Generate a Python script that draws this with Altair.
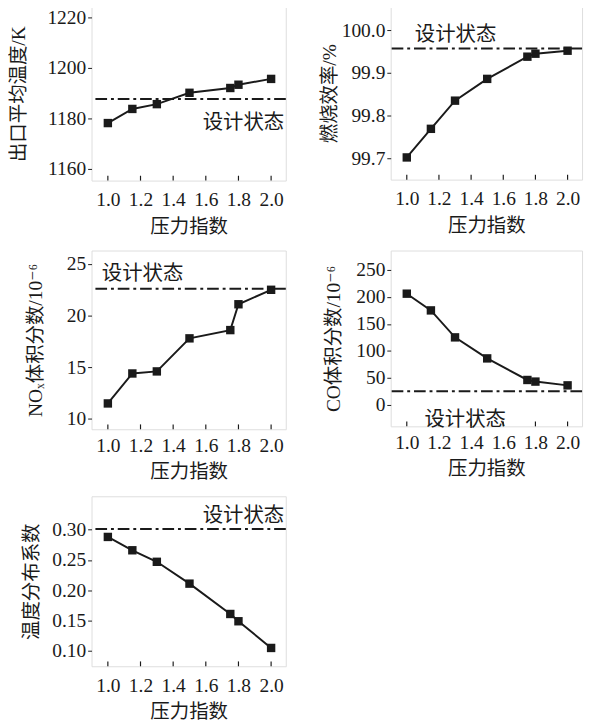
import altair as alt
import pandas as pd

# ---------------- data ----------------
pressure_index = [1.0, 1.15, 1.3, 1.5, 1.75, 1.8, 2.0]
outlet_temp = [1178.1, 1183.7, 1185.6, 1190.1, 1192.0, 1193.3, 1195.6]   # K
comb_eff = [99.702, 99.769, 99.835, 99.886, 99.938, 99.945, 99.952]       # %
nox = [11.5, 14.4, 14.6, 17.8, 18.6, 21.1, 22.5]                          # 1e-6
co = [206, 175, 125, 86, 46, 43, 36]                                      # 1e-6
temp_dist = [0.288, 0.266, 0.247, 0.211, 0.161, 0.149, 0.105]

design_temp = 1187.6
design_eff = 99.957
design_nox = 22.6
design_co = 25
design_dist = 0.301

x_ticks = [1.0, 1.2, 1.4, 1.6, 1.8, 2.0]
design_label = "设计状态"
x_title = "压力指数"

SERIF = "'Liberation Serif', 'DejaVu Serif', 'Noto Sans CJK SC', serif"
CJK = "'Noto Sans CJK SC', sans-serif"
INK = "#1a1a1a"


def panel(vals, ytitle, ydom, yticks, yfmt, dval, lx, ly, lalign, w, h, tpad,
          xlp, xtp):
    df = pd.DataFrame({"p": pressure_index, "v": vals})
    xs = alt.Scale(domain=[0.9, 2.09], nice=False, zero=False)
    ys = alt.Scale(domain=ydom, nice=False, zero=False)
    xaxis = alt.Axis(values=x_ticks, format=".1f", title=x_title, tickSize=0,
                     labelPadding=xlp, titlePadding=xtp, domain=False, grid=False,
                     labelFont=SERIF, labelFontSize=20, titleFont=CJK,
                     titleFontSize=20, titleFontWeight="normal",
                     labelColor=INK, titleColor=INK, labelFlush=False,
                     labelOverlap=False)
    yaxis = alt.Axis(values=yticks, format=yfmt, title=ytitle, tickSize=4,
                     tickColor=INK, labelPadding=2, titlePadding=tpad,
                     domain=False, grid=False, labelFont=SERIF,
                     labelFontSize=20, titleFont=SERIF, titleFontSize=20,
                     titleFontWeight="normal", labelColor=INK,
                     titleColor=INK, labelOverlap=False)
    X = alt.X("p:Q", scale=xs, axis=xaxis)
    Y = alt.Y("v:Q", scale=ys, axis=yaxis)

    line = alt.Chart(df).mark_line(color=INK, strokeWidth=2).encode(x=X, y=Y)
    pts = alt.Chart(df).mark_square(size=75, color=INK, opacity=1).encode(x=X, y=Y)
    ref = alt.Chart(pd.DataFrame({"v": [dval]})).mark_rule(
        color=INK, strokeWidth=2, strokeDash=[12, 4, 3, 4]).encode(y=Y)
    ticks = alt.Chart(pd.DataFrame({"p": x_ticks})).mark_rule(
        color=INK, strokeWidth=1.2).encode(x=X, y=alt.value(h), y2=alt.value(h - 5))
    lab = alt.Chart(pd.DataFrame({"t": [design_label]})).mark_text(
        font=CJK, fontSize=21, align=lalign, baseline="middle", color=INK
    ).encode(text="t:N",
             x=alt.X(datum=lx, scale=xs, axis=xaxis),
             y=alt.Y(datum=ly, scale=ys, axis=yaxis))
    return alt.layer(line, pts, ref, ticks, lab).properties(width=w, height=h)


p1 = panel(outlet_temp, "出口平均温度/K", [1155.3, 1224.2], [1160, 1180, 1200, 1220], "d",
           design_temp, 2.08, 1178.1, "right", 200, 179, 19, 10, 7)
p2 = panel(comb_eff, "燃烧效率/%", [99.65, 100.055], [99.7, 99.8, 99.9, 100.0], ".1f",
           design_eff, 1.05, 99.988, "left", 197, 178, 2, 10, 7)
p3 = panel(nox, "NOₓ体积分数/10⁻⁶", [9, 26.3], [10, 15, 20, 25], "d",
           design_nox, 0.963, 24.05, "left", 200, 184, 22, 7, 7)
p4 = panel(co, "CO体积分数/10⁻⁶", [-40, 286], [0, 50, 100, 150, 200, 250], "d",
           design_co, 1.11, -29, "left", 197, 181, 13, 7, 7)
p5 = panel(temp_dist, "温度分布系数", [0.0748, 0.355], [0.10, 0.15, 0.20, 0.25, 0.30], ".2f",
           design_dist, 2.08, 0.322, "right", 200, 175, 11, 10, 7)

chart = alt.concat(p1, p2, p3, p4, p5, columns=2, align="each",
                   spacing={"row": 13, "column": 32}).properties(
    padding={"left": 0, "top": -13, "right": 0, "bottom": 0}
).configure_view(stroke=INK, strokeWidth=1.3).configure(background="white")

chart.save("out.html", embed_options={"renderer": "svg", "actions": False})
